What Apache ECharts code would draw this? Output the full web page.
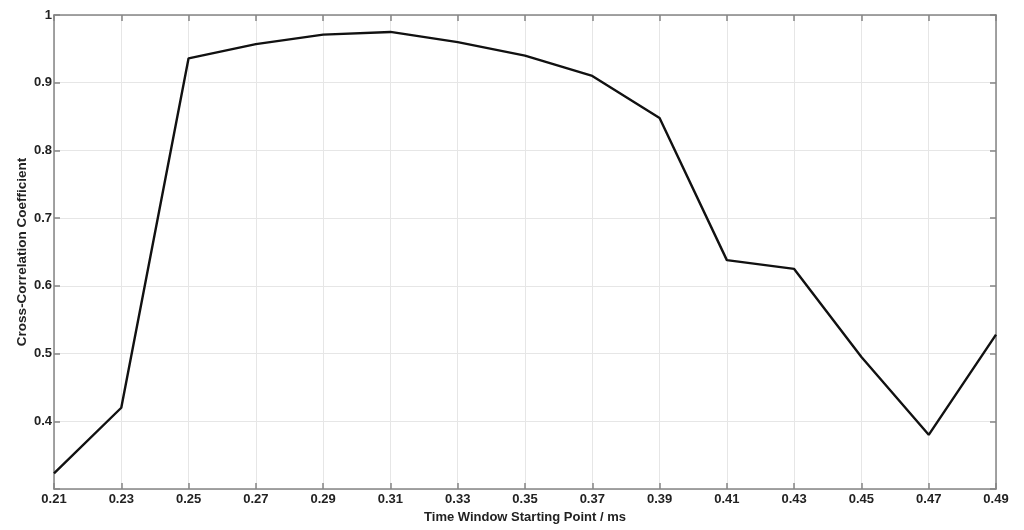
<!DOCTYPE html>
<html>
<head>
<meta charset="utf-8">
<script src="https://cdn.jsdelivr.net/npm/echarts@6/dist/echarts.min.js"></script>
<style>
  html, body { margin: 0; padding: 0; background: #fff; }
  #chart { width: 1024px; height: 530px; }
</style>
</head>
<body>
<div id="chart"></div>
<script>
// time window start (ms) and correlation values
const startPoints = [0.21, 0.23, 0.25, 0.27, 0.29, 0.31, 0.33, 0.35, 0.37, 0.39, 0.41, 0.43, 0.45, 0.47, 0.49];
const coeffs = [0.323, 0.420, 0.936, 0.957, 0.971, 0.975, 0.960, 0.940, 0.910, 0.848, 0.638, 0.625, 0.495, 0.380, 0.528];

const frameColor = '#858585';
const gridColor = '#e6e6e6';
const labelFont = { color: '#222', fontWeight: 'bold', fontSize: 13, fontFamily: 'Liberation Sans, Arial, sans-serif' };

let myChart = echarts.init(document.getElementById('chart'));

let option = {
  animation: false,
  backgroundColor: '#fff',
  grid: { left: 54, right: 28, top: 15, bottom: 41, outerBoundsMode: 'none', containLabel: false },
  xAxis: [{
    type: 'value',
    min: 0.21,
    max: 0.49,
    interval: 0.02,
    name: 'Time Window Starting Point / ms',
    nameLocation: 'middle',
    nameGap: 17,
    nameTextStyle: Object.assign({}, labelFont, { fontSize: 13 }),
    axisLabel: Object.assign({}, labelFont, {
      margin: 4,
      formatter: v => v.toFixed(2)
    }),
    axisLine: { lineStyle: { color: frameColor, width: 1.5 } },
    axisTick: { inside: true, length: 6, lineStyle: { color: frameColor, width: 1.5 } },
    splitLine: { show: true, lineStyle: { color: gridColor, width: 1 } }
  }, {
    type: 'value',
    position: 'top',
    min: 0.21,
    max: 0.49,
    interval: 0.02,
    axisLabel: { show: false },
    axisLine: { lineStyle: { color: frameColor, width: 1.5 } },
    axisTick: { inside: true, length: 6, lineStyle: { color: frameColor, width: 1.5 } },
    splitLine: { show: false }
  }],
  yAxis: [{
    type: 'value',
    min: 0.3,
    max: 1,
    interval: 0.1,
    name: 'Cross-Correlation Coefficient',
    nameLocation: 'middle',
    nameGap: 25,
    nameMoveOverlap: false,
    nameTextStyle: Object.assign({}, labelFont, { fontSize: 13.5 }),
    axisLabel: Object.assign({}, labelFont, {
      margin: 2,
      formatter: v => (v < 0.35 ? '' : (Math.round(v * 10) / 10).toString())
    }),
    axisLine: { show: true, lineStyle: { color: frameColor, width: 1.5 } },
    axisTick: { show: true, inside: true, length: 6, lineStyle: { color: frameColor, width: 1.5 } },
    splitLine: { show: true, lineStyle: { color: gridColor, width: 1 } }
  }, {
    type: 'value',
    position: 'right',
    min: 0.3,
    max: 1,
    interval: 0.1,
    axisLabel: { show: false },
    axisLine: { show: true, lineStyle: { color: frameColor, width: 1.5 } },
    axisTick: { show: true, inside: true, length: 6, lineStyle: { color: frameColor, width: 1.5 } },
    splitLine: { show: false }
  }],
  series: [{
    type: 'line',
    data: startPoints.map((x, i) => [x, coeffs[i]]),
    showSymbol: false,
    lineStyle: { color: '#111', width: 2.4 }
  }]
};

myChart.setOption(option, true);

window.addEventListener('resize', () => {
  myChart.resize();
});
</script>
</body>
</html>
